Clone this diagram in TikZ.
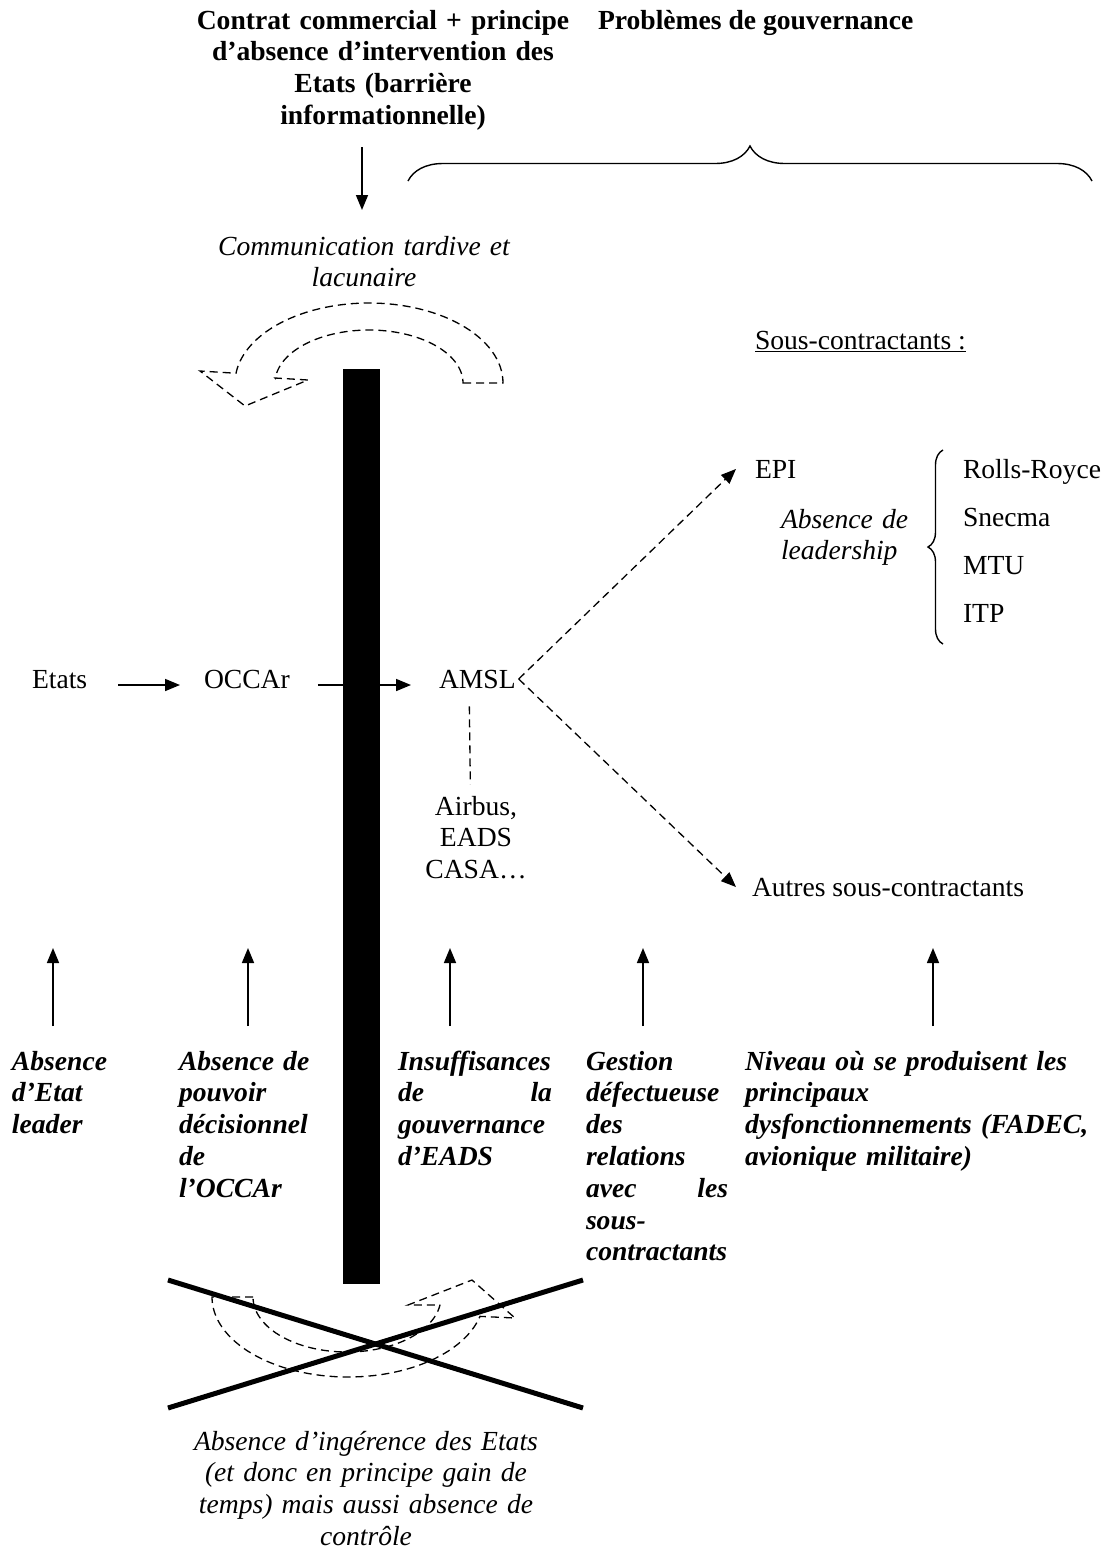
\documentclass[tikz,border=0pt]{standalone}
\usepackage{fontspec}
\setmainfont{Liberation Serif}
\usetikzlibrary{arrows.meta,decorations.pathreplacing}
\newcommand\fsz{\fontsize{27.6}{31.8}\selectfont}
\begin{document}
\begin{tikzpicture}[x=1pt,y=-1pt,
  every node/.style={inner sep=0pt,outer sep=0pt,font=\fsz},
  lbl/.style={anchor=base west},
  boldtxt/.style={font=\fsz\bfseries},
  ittxt/.style={font=\fsz\itshape},
  bcol/.style={anchor=base west,align=left,font=\fsz\bfseries\itshape},
  arr/.style={line width=1.6pt,-{Triangle[length=15pt,width=12pt]}},
  dl/.style={line width=1.3pt,dash pattern=on 8pt off 5pt},
  darr/.style={dl,-{Triangle[length=15pt,width=12pt]}},
  brc/.style={line width=1.4pt,decorate},
  cross/.style={line width=5pt}
]
\useasboundingbox (0,0) rectangle (1114,1551);

% header texts
\node[boldtxt,anchor=base,align=center,text width=420pt] (hdr) at (383,29)
  {Contrat commercial + principe\\d’absence d’intervention des\\Etats (barrière\\informationnelle)};
\node[boldtxt,lbl] (gov) at (598,29) {Problèmes de gouvernance};

% down arrow
\coordinate (d1) at (362,147);
\coordinate (d2) at (362,210);
\draw[arr] (d1) -- (d2);

% top brace
\coordinate (b1) at (408,181);
\coordinate (b2) at (1092,181);
\draw[brc,decoration={brace,amplitude=35pt}] (b1) -- (b2);

\node[ittxt,anchor=base,align=center,text width=340pt] (comm) at (364,255)
  {Communication tardive et\\lacunaire};

% top dashed block arrow
\draw[dl] (463,383) -- (503,383)
  -- plot[domain=0:173,samples=60] ({369+134*cos(\x)},{383-80*sin(\x)})
  -- (200,371) -- (245,406) -- (308,380) -- (275,378)
  -- plot[domain=175:0,samples=60] ({369+94*cos(\x)},{383-53*sin(\x)})
  -- cycle;

\node[lbl] (sc) at (755,349) {\underline{Sous-contractants :}};

% main row
\node[lbl] (etats) at (32,688) {Etats};
\node[lbl] (occar) at (204,688) {OCCAr};
\node[lbl] (amsl) at (439,688) {AMSL};
\draw[arr,shorten <=31pt,shorten >=24pt] ([yshift=3pt]etats.base east) -- ([yshift=3pt]occar.base west);
\draw[arr,shorten <=28pt,shorten >=28pt] ([yshift=3pt]occar.base east) -- ([yshift=3pt]amsl.base west);

% black bar
\node[fill=black,anchor=north west,minimum width=37pt,minimum height=915pt] (bar) at (343,369) {};

% EPI and subcontractors
\node[lbl] (epi) at (755,478) {EPI};
\node[ittxt,anchor=base west,align=left,text width=140pt] (lead) at (781,528) {Absence de\\leadership};
\node[lbl] (rr) at (963,478) {Rolls-Royce};
\node[lbl] (sn) at (963,526) {Snecma};
\node[lbl] (mtu) at (963,574) {MTU};
\node[lbl] (itp) at (963,622) {ITP};
\coordinate (lb1) at (943,644);
\coordinate (lb2) at (943,450);
\draw[brc,decoration={brace,amplitude=15pt}] (lb1) -- (lb2);

\node[lbl] (autres) at (752,896) {Autres sous-contractants};
\draw[darr] ([xshift=3pt]amsl.east) -- ([xshift=-19pt]epi.west);
\draw[darr] ([xshift=3pt]amsl.east) -- ([xshift=-16pt]autres.west);

% Airbus group
\node[anchor=base,align=center,text width=130pt] (airbus) at (476,815) {Airbus,\\EADS\\CASA…};
\draw[dl] ([xshift=-8pt,yshift=-18pt]amsl.south) -- ([xshift=-7pt,yshift=-96pt]amsl.south);

% up arrows
\foreach \i/\xx in {1/53,2/248,3/450,4/643,5/933}{
  \coordinate (ua\i) at (\xx,1026);
  \coordinate (ub\i) at (\xx,948);
  \draw[arr] (ua\i) -- (ub\i);
}

% bottom columns
\node[bcol,text width=110pt] (t1) at (12,1070) {Absence\\d’Etat\\leader};
\node[bcol,text width=140pt] (t2) at (179,1070) {Absence de\\pouvoir\\décisionnel\\de\\l’OCCAr};
\node[bcol,text width=154pt] (t3) at (398,1070) {Insuffisances\\de\hfill la\\gouvernance\\d’EADS};
\node[bcol,text width=142pt] (t4) at (586,1070) {Gestion\\défectueuse\\des\\relations\\avec\hfill les\\sous-\\contractants};
\node[bcol,text width=364pt] (t5) at (745,1070) {\makebox[\linewidth][s]{Niveau où se produisent les}\\principaux\\\makebox[\linewidth][s]{dysfonctionnements (FADEC,}\\avionique militaire)};

% bottom crossed dashed arrow
\draw[dl] (253,1297) -- (212,1297)
  -- plot[domain=180:14,samples=60] ({348+136*cos(\x)},{1297+80*sin(\x)})
  -- (515,1318) -- (472,1280) -- (408,1305) -- (440,1305)
  -- plot[domain=8:180,samples=60] ({347+94*cos(\x)},{1297+55*sin(\x)})
  -- cycle;
\coordinate (x1) at (168,1280);
\coordinate (x2) at (583,1408);
\coordinate (x3) at (168,1408);
\coordinate (x4) at (583,1280);
\draw[cross] (x1) -- (x2);
\draw[cross] (x3) -- (x4);

\node[ittxt,anchor=base,align=center,text width=420pt] (abs) at (366,1450)
  {Absence d’ingérence des Etats\\(et donc en principe gain de\\temps) mais aussi absence de\\contrôle};
\end{tikzpicture}
\end{document}
